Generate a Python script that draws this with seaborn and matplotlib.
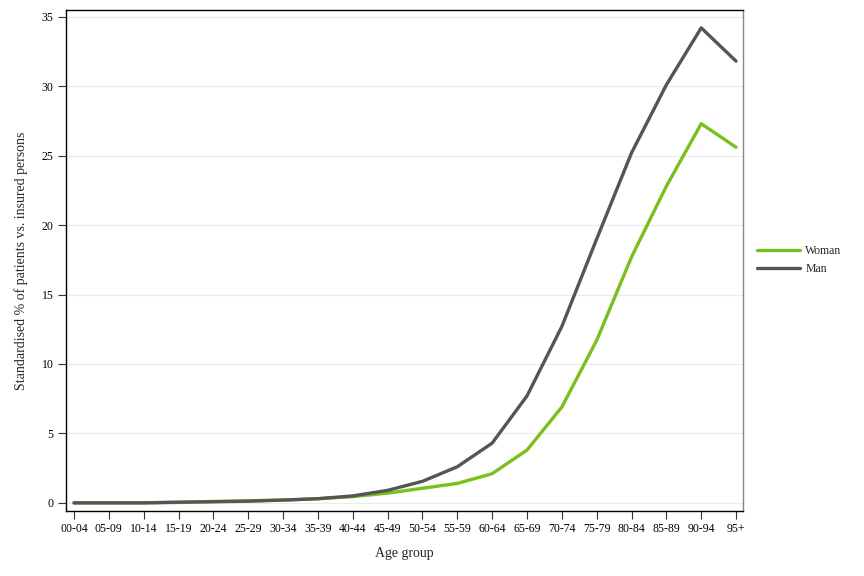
import matplotlib
matplotlib.use("Agg")
import matplotlib.pyplot as plt
import seaborn as sns
import pandas as pd

# Age groups on the x axis
age_groups = ["00-04", "05-09", "10-14", "15-19", "20-24", "25-29", "30-34",
              "35-39", "40-44", "45-49", "50-54", "55-59", "60-64", "65-69",
              "70-74", "75-79", "80-84", "85-89", "90-94", "95+"]

# Standardised % of patients vs. insured persons
woman = [0.0, 0.0, 0.0, 0.03, 0.1, 0.15, 0.2, 0.3, 0.45, 0.7, 1.05, 1.4,
         2.1, 3.8, 6.9, 11.7, 17.7, 22.8, 27.3, 25.6]
man = [0.0, 0.0, 0.0, 0.05, 0.08, 0.12, 0.2, 0.3, 0.5, 0.9, 1.55, 2.6,
       4.3, 7.7, 12.7, 19.0, 25.2, 30.1, 34.2, 31.8]

df = pd.DataFrame({
    "age": list(range(len(age_groups))) * 2,
    "value": woman + man,
    "sex": ["Woman"] * len(woman) + ["Man"] * len(man),
})

sns.set_style("white")
plt.rcParams["font.family"] = ["Liberation Serif", "DejaVu Serif"]

fig = plt.figure(figsize=(8.64, 5.76), dpi=100)
ax = fig.add_axes([0.0764, 0.113, 0.7836, 0.870])

sns.lineplot(data=df, x="age", y="value", hue="sex", hue_order=["Woman", "Man"],
             palette={"Woman": "#7abf1e", "Man": "#555555"}, linewidth=2.4, ax=ax)

ax.set_xlim(-0.23, 19.2)
ax.set_ylim(-0.58, 35.5)
ax.set_xticks(range(len(age_groups)))
ax.set_xticklabels(age_groups)
ax.set_yticks(range(0, 36, 5))
ax.yaxis.grid(True, color="#ebebeb", linewidth=0.8)
ax.tick_params(axis="both", direction="out", length=5.5, width=0.8, colors="#333333",
               labelsize=8.5, labelcolor="black", bottom=True, left=True)

for side in ["left", "bottom", "top"]:
    ax.spines[side].set_color("black")
    ax.spines[side].set_linewidth(1.0)
ax.spines["right"].set_color("#888888")
ax.spines["right"].set_linewidth(1.0)

ax.set_xlabel("Age group", fontsize=10, labelpad=8)
ax.set_ylabel("Standardised % of patients vs. insured persons", fontsize=10, labelpad=10)

ax.legend(loc="center left", bbox_to_anchor=(1.005, 0.5), frameon=False,
          fontsize=8.5, handlelength=3.6, handletextpad=0.5, title=None)

fig.savefig("out.png", dpi=100)
